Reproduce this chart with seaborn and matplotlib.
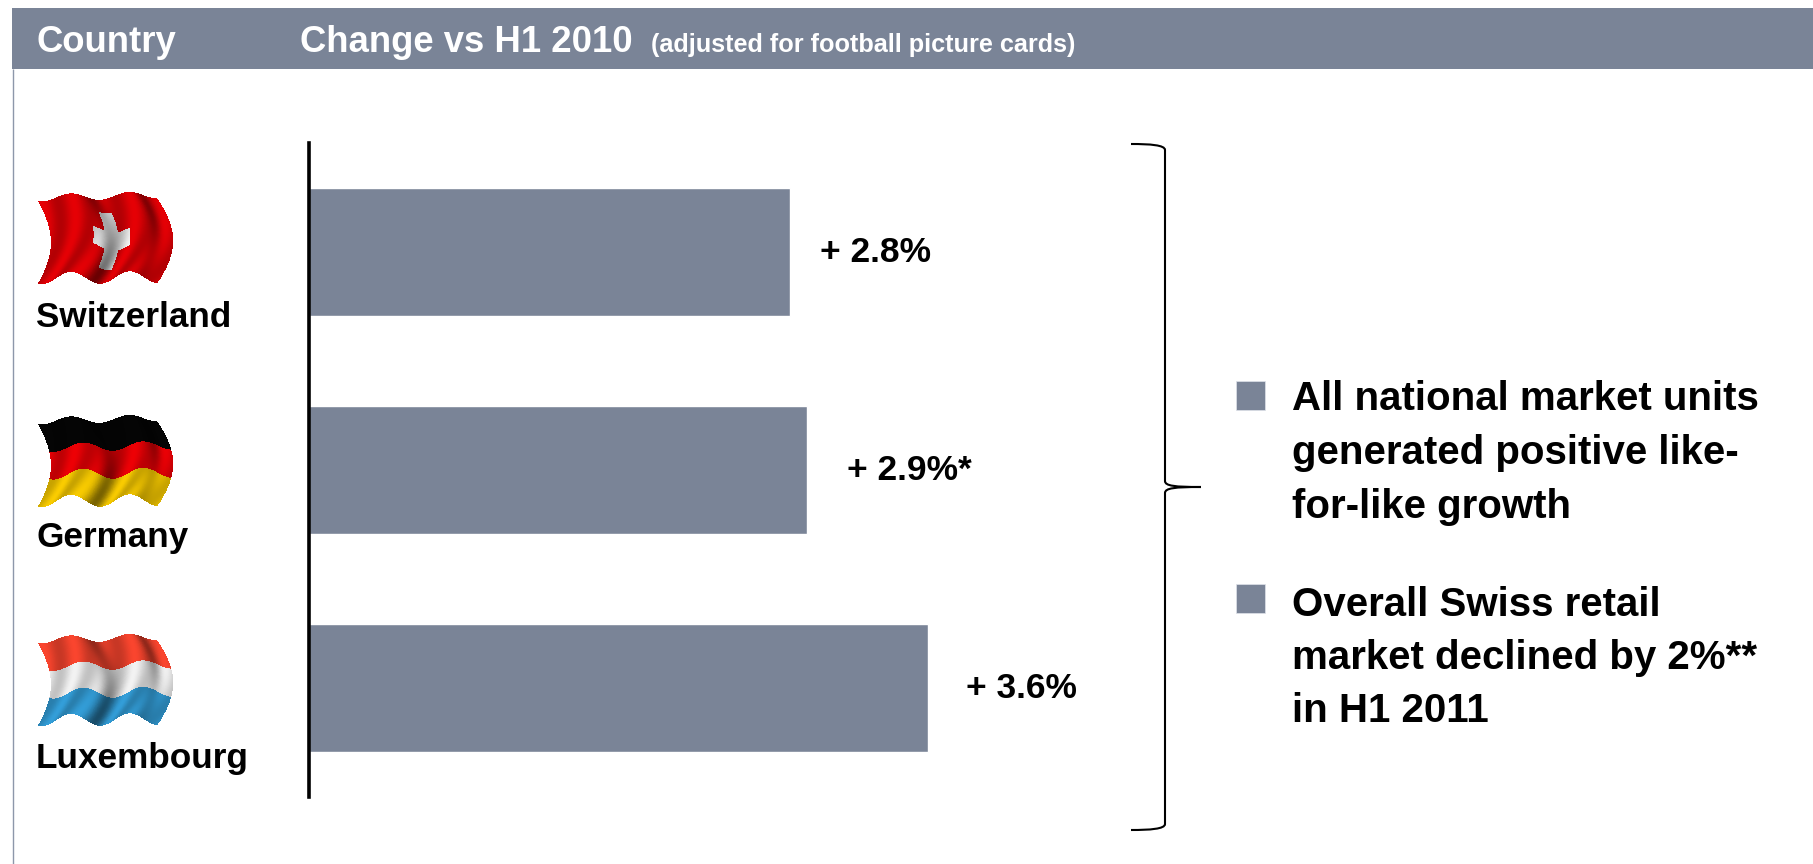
import numpy as np
import pandas as pd
import matplotlib
matplotlib.use("Agg")
import matplotlib.pyplot as plt
from matplotlib.patches import Rectangle
from matplotlib.path import Path
from matplotlib.patches import PathPatch
import seaborn as sns

countries = ["Switzerland", "Germany", "Luxembourg"]
growth = [2.8, 2.9, 3.6]
value_suffix = ["", "*", ""]
bullets = [
    ["All national market units", "generated positive like-", "for-like growth"],
    ["Overall Swiss retail", "market declined by 2%**", "in H1 2011"],
]

SLATE = "#7a8497"
W, H = 1813, 864

sns.set_theme(style="white")
plt.rcParams["font.family"] = ["Liberation Sans", "DejaVu Sans"]
plt.rcParams["font.weight"] = "bold"

fig = plt.figure(figsize=(W / 100, H / 100), dpi=100, facecolor="white")

# Overlay in pixel units for the header, flags, brace and commentary
page = fig.add_axes([0, 0, 1, 1], zorder=1)
page.set_xlim(0, W)
page.set_ylim(H, 0)
page.axis("off")
page.patch.set_alpha(0)


def box(x0, x1):
    return [x0 / W, 0, (x1 - x0) / W, 1]


# Bars on a real value axis: 172 px per percentage point
chart = fig.add_axes([308.5 / W, 1 - 797 / H, 688 / W, 654 / H], zorder=2)
chart.patch.set_alpha(0)
frame = pd.DataFrame({"country": countries, "growth": growth})
sns.barplot(data=frame, y="country", x="growth", order=countries, color=SLATE,
            saturation=1, width=0.587, ax=chart)
chart.set_xlim(0, 4)
chart.set_ylim(2.5, -0.5)
chart.set(xlabel="", ylabel="", xticks=[], yticks=[])
sns.despine(ax=chart, top=True, right=True, bottom=True)
chart.spines["left"].set_linewidth(2.6)
chart.spines["left"].set_color("black")

label_offsets = [30, 40, 38]
for i, (v, suf, off) in enumerate(zip(growth, value_suffix, label_offsets)):
    chart.annotate(f"+ {v}%{suf}", xy=(v, i), xytext=(off * 0.72, -1 * 0.72),
                   textcoords="offset points", ha="left", va="center",
                   fontsize=25.5, fontweight="bold", color="black", annotation_clip=False)

# Header band and left rule
page.add_patch(Rectangle((12, 8), W - 12, 61, facecolor=SLATE, edgecolor="none"))
page.plot([12.5, 12.5], [69, H], color="#8d97aa", lw=1.0, solid_capstyle="butt")
page.text(36, 52, "Country", fontsize=26.3, color="white", fontweight="bold", va="baseline")
page.text(300, 52, "Change vs H1 2010", fontsize=26.3, color="white", fontweight="bold", va="baseline")
page.text(651, 52, "(adjusted for football picture cards)", fontsize=18.2, color="white",
          fontweight="bold", va="baseline")


def wave_flag(ax, top, palette, shade_amp, cross=False):
    """Paint a rippled flag as a fine colour mesh whose top-left corner sits at y=top."""
    nu, nv = 360, 240
    u = np.linspace(0, 1, nu)
    v = np.linspace(0, 1, nv)
    U, V = np.meshgrid(u, v)
    bow = np.sin(np.pi * V) ** 0.9
    left = 38 + 13 * bow
    right = 157 + 16 * bow
    X = left + (right - left) * U
    ripple = 3.6 * np.sin(2 * np.pi * (U * 2.05 + 0.18))
    Y = top + 4 - 3 * U + ripple + (80 + 2 * U) * V + 2.5 * np.sin(2 * np.pi * U * 2.0 + 1.2) * V

    n = len(palette)
    idx = np.clip((V * n).astype(int), 0, n - 1)
    rgb = np.array(palette, dtype=float)[idx]
    if cross:
        cu, cv = np.abs(U - 0.5), np.abs(V - 0.5)
        mask = ((cu < 0.15) & (cv < 0.11)) | ((cu < 0.055) & (cv < 0.34))
        rgb[mask] = (0.95, 0.95, 0.95)
    folds = 0.5 + 0.5 * np.sin(2 * np.pi * (U * 4.1 + V * 0.8 + 0.1))
    deep = np.exp(-((U - 0.47) / 0.07) ** 2) + 0.7 * np.exp(-((U - 0.86) / 0.05) ** 2)
    shade = 1 - shade_amp * (1 - folds) - 0.32 * np.clip(deep, 0, 1)
    rgb = np.clip(rgb * shade[..., None], 0, 1)
    ax.pcolormesh(X, Y, rgb, shading="nearest", antialiased=False, rasterized=True, zorder=3)


RED = (0.90, 0.0, 0.02)
wave_flag(page, 194, [RED], 0.22, cross=True)
wave_flag(page, 417, [(0.02, 0.02, 0.02), (0.93, 0.0, 0.02), (0.98, 0.80, 0.0)], 0.2)
wave_flag(page, 636, [(0.98, 0.27, 0.18), (0.95, 0.95, 0.95), (0.20, 0.62, 0.85)], 0.2)

name_baselines = [327, 547, 768]
for name, y in zip(countries, name_baselines):
    page.text(36, y, name, fontsize=25.3, color="black", fontweight="bold", va="baseline")

# Right-hand curly brace
bx, tip, y0, ym, y1 = 1165, 1201, 144, 487, 830
codes = [Path.MOVETO, Path.CURVE4, Path.CURVE4, Path.CURVE4, Path.LINETO,
         Path.CURVE4, Path.CURVE4, Path.CURVE4, Path.MOVETO, Path.CURVE4, Path.CURVE4,
         Path.CURVE4, Path.LINETO, Path.CURVE4, Path.CURVE4, Path.CURVE4]
verts = [(1131, y0), (1150, y0), (bx, y0 + 1), (bx, y0 + 6), (bx, ym - 6),
         (bx, ym - 1), (bx + 10, ym), (tip, ym),
         (tip, ym), (bx + 10, ym), (bx, ym + 1), (bx, ym + 6), (bx, y1 - 6),
         (bx, y1 - 1), (1150, y1), (1131, y1)]
page.add_patch(PathPatch(Path(verts, codes), facecolor="none", edgecolor="black", lw=1.5))

# Commentary with square bullets
bullet_tops = [381, 584]
line_baselines = [[410, 464, 518], [616, 669, 722]]
for top, lines, ys in zip(bullet_tops, bullets, line_baselines):
    page.add_patch(Rectangle((1236, top), 29, 29, facecolor=SLATE, edgecolor="#dfe3ea", lw=0.5))
    for line, y in zip(lines, ys):
        page.text(1292, y, line, fontsize=29, color="black", fontweight="bold", va="baseline")

fig.savefig("out.png", dpi=100)
